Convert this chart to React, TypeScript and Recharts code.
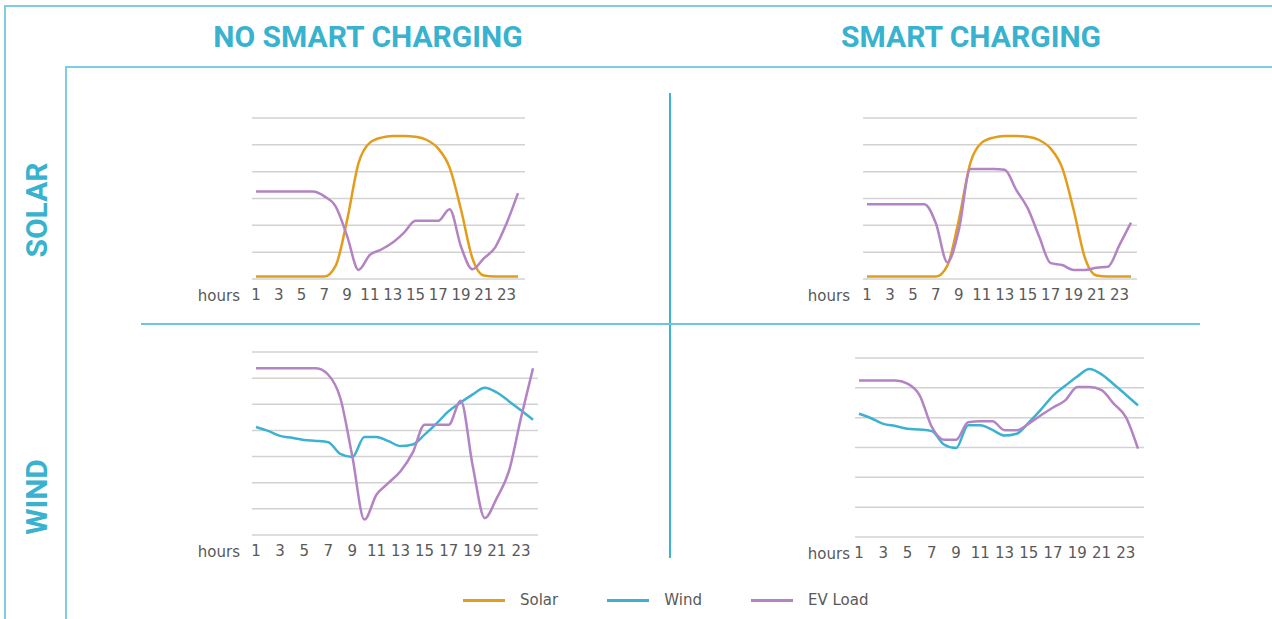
import React from 'react';
import { LineChart, Line, XAxis, YAxis, CartesianGrid, Label } from 'recharts';

const hours = [1, 2, 3, 4, 5, 6, 7, 8, 9, 10, 11, 12, 13, 14, 15, 16, 17, 18, 19, 20, 21, 22, 23, 24];
const tickHours = [1, 3, 5, 7, 9, 11, 13, 15, 17, 19, 21, 23];

const solar = [0.09, 0.09, 0.09, 0.09, 0.09, 0.09, 0.09, 0.5, 2.2, 4.32, 5.08, 5.27, 5.33, 5.33, 5.3, 5.18, 4.86, 4.15, 2.58, 0.77, 0.13, 0.09, 0.09, 0.09];
const wind = [4.13, 3.98, 3.79, 3.72, 3.63, 3.6, 3.55, 3.1, 2.98, 3.75, 3.75, 3.59, 3.4, 3.46, 3.84, 4.27, 4.74, 5.07, 5.38, 5.63, 5.45, 5.12, 4.77, 4.41];

const evNoSmartSolar = [3.26, 3.26, 3.26, 3.26, 3.26, 3.26, 3.08, 2.7, 1.6, 0.34, 0.9, 1.1, 1.36, 1.73, 2.17, 2.17, 2.17, 2.6, 1.2, 0.36, 0.77, 1.18, 2.08, 3.2];
const evSmartSolar = [2.79, 2.79, 2.79, 2.79, 2.79, 2.79, 2.08, 0.62, 1.83, 4.1, 4.1, 4.1, 4.07, 3.32, 2.64, 1.58, 0.59, 0.52, 0.34, 0.34, 0.42, 0.46, 1.27, 2.1];
const evNoSmartWind = [6.38, 6.38, 6.38, 6.38, 6.38, 6.38, 6.13, 5.24, 3.0, 0.59, 1.54, 1.99, 2.44, 3.14, 4.22, 4.22, 4.22, 5.14, 2.63, 0.65, 1.42, 2.44, 4.48, 6.38];
const evSmartWind = [5.25, 5.25, 5.25, 5.25, 5.14, 4.75, 3.69, 3.26, 3.26, 3.85, 3.88, 3.88, 3.58, 3.58, 3.8, 4.08, 4.34, 4.58, 5.03, 5.03, 4.92, 4.47, 4.02, 2.96];

const SOLAR = '#e39d1c';
const WIND = '#3cb1d1';
const EV = '#b383c3';
const TITLE = '#38b2cf';
const TEXT = '#595959';
const FONT = '"DejaVu Sans", sans-serif';

type Plot = { x: number; y: number; w: number; h: number };

interface PanelProps {
  plot: Plot;
  source: number[];
  sourceColor: string;
  ev: number[];
  yMax: number;
  pad: { left: number; right: number };
  labelOffset: number;
}

function Panel({ plot, source, sourceColor, ev, yMax, pad, labelOffset }: PanelProps) {
  const rows = hours.map((h, i) => ({ h, src: source[i], ev: ev[i] }));
  const yTicks = Array.from({ length: yMax + 1 }, (_, i) => i);
  // plot height = height - top(20) - bottom(10) - axis(30)
  return (
    <div style={{ position: 'absolute', left: plot.x - 80, top: plot.y - 20 }}>
      <LineChart
        width={plot.w + 100}
        height={plot.h + 60}
        data={rows}
        margin={{ top: 20, right: 20, left: 80, bottom: 10 }}
      >
        <CartesianGrid vertical={false} stroke="#d2d2d2" strokeWidth={1.5} />
        <YAxis hide type="number" domain={[0, yMax]} ticks={yTicks} />
        <XAxis
          dataKey="h"
          type="number"
          domain={[1, 24]}
          ticks={tickHours}
          interval={0}
          padding={pad}
          tickLine={false}
          axisLine={false}
          height={30}
          tickMargin={4}
          tick={{ fill: TEXT, fontSize: 15, fontFamily: FONT }}
        >
          <Label value="hours" position="left" offset={labelOffset} fill={TEXT} fontSize={15} fontFamily={FONT} dy={2} />
        </XAxis>
        <Line type="monotone" dataKey="src" stroke={sourceColor} strokeWidth={2.5} dot={false} isAnimationActive={false} />
        <Line type="monotone" dataKey="ev" stroke={EV} strokeWidth={2.5} dot={false} isAnimationActive={false} />
      </LineChart>
    </div>
  );
}

const line = (left: number, top: number, width: number, height: number, color: string) => (
  <div style={{ position: 'absolute', left, top, width, height, background: color }} />
);

const titleStyle: React.CSSProperties = {
  position: 'absolute',
  fontFamily: 'Roboto, sans-serif',
  fontWeight: 700,
  fontSize: 30,
  lineHeight: '30px',
  color: TITLE,
  textAlign: 'center',
  whiteSpace: 'nowrap',
};

const legendItems = [
  { name: 'Solar', color: SOLAR },
  { name: 'Wind', color: WIND },
  { name: 'EV Load', color: EV },
];

export default function App() {
  return (
    <div style={{ position: 'absolute', left: 0, top: 0, width: 1272, height: 619, background: '#fff', overflow: 'hidden', fontFamily: FONT }}>
      {line(4, 5, 1268, 2, '#7fcde2')}
      {line(4, 5, 2, 614, '#7fcde2')}
      {line(65, 66, 1207, 2, '#7fcde2')}
      {line(65, 66, 2, 553, '#7fcde2')}
      {line(669, 93, 2, 465, '#3bb4d4')}
      {line(141, 323, 1059, 2, '#6cc6de')}

      <div style={{ ...titleStyle, left: 168, width: 400, top: 22 }}>NO SMART CHARGING</div>
      <div style={{ ...titleStyle, left: 771, width: 400, top: 22 }}>SMART CHARGING</div>
      <div style={{ ...titleStyle, left: -63, width: 200, top: 195, transform: 'rotate(-90deg)' }}>SOLAR</div>
      <div style={{ ...titleStyle, left: -63, width: 200, top: 482, transform: 'rotate(-90deg)' }}>WIND</div>

      <Panel plot={{ x: 252, y: 118, w: 273, h: 161 }} source={solar} sourceColor={SOLAR} ev={evNoSmartSolar} yMax={6} pad={{ left: 4, right: 7 }} labelOffset={12} />
      <Panel plot={{ x: 863, y: 118, w: 274, h: 161 }} source={solar} sourceColor={SOLAR} ev={evSmartSolar} yMax={6} pad={{ left: 4, right: 6 }} labelOffset={13} />
      <Panel plot={{ x: 252, y: 352, w: 286, h: 183 }} source={wind} sourceColor={WIND} ev={evNoSmartWind} yMax={7} pad={{ left: 4, right: 5 }} labelOffset={12} />
      <Panel plot={{ x: 855, y: 358, w: 289, h: 179 }} source={wind} sourceColor={WIND} ev={evSmartWind} yMax={6} pad={{ left: 4, right: 6 }} labelOffset={5} />

      <div style={{ position: 'absolute', left: 463, top: 591, display: 'flex', alignItems: 'center', fontSize: 15, color: TEXT }}>
        {legendItems.map((it, i) => (
          <div key={it.name} style={{ display: 'flex', alignItems: 'center', marginLeft: i === 0 ? 0 : 49 }}>
            <div style={{ width: 42, height: 3, background: it.color, marginRight: 15 }} />
            <span>{it.name}</span>
          </div>
        ))}
      </div>
    </div>
  );
}
